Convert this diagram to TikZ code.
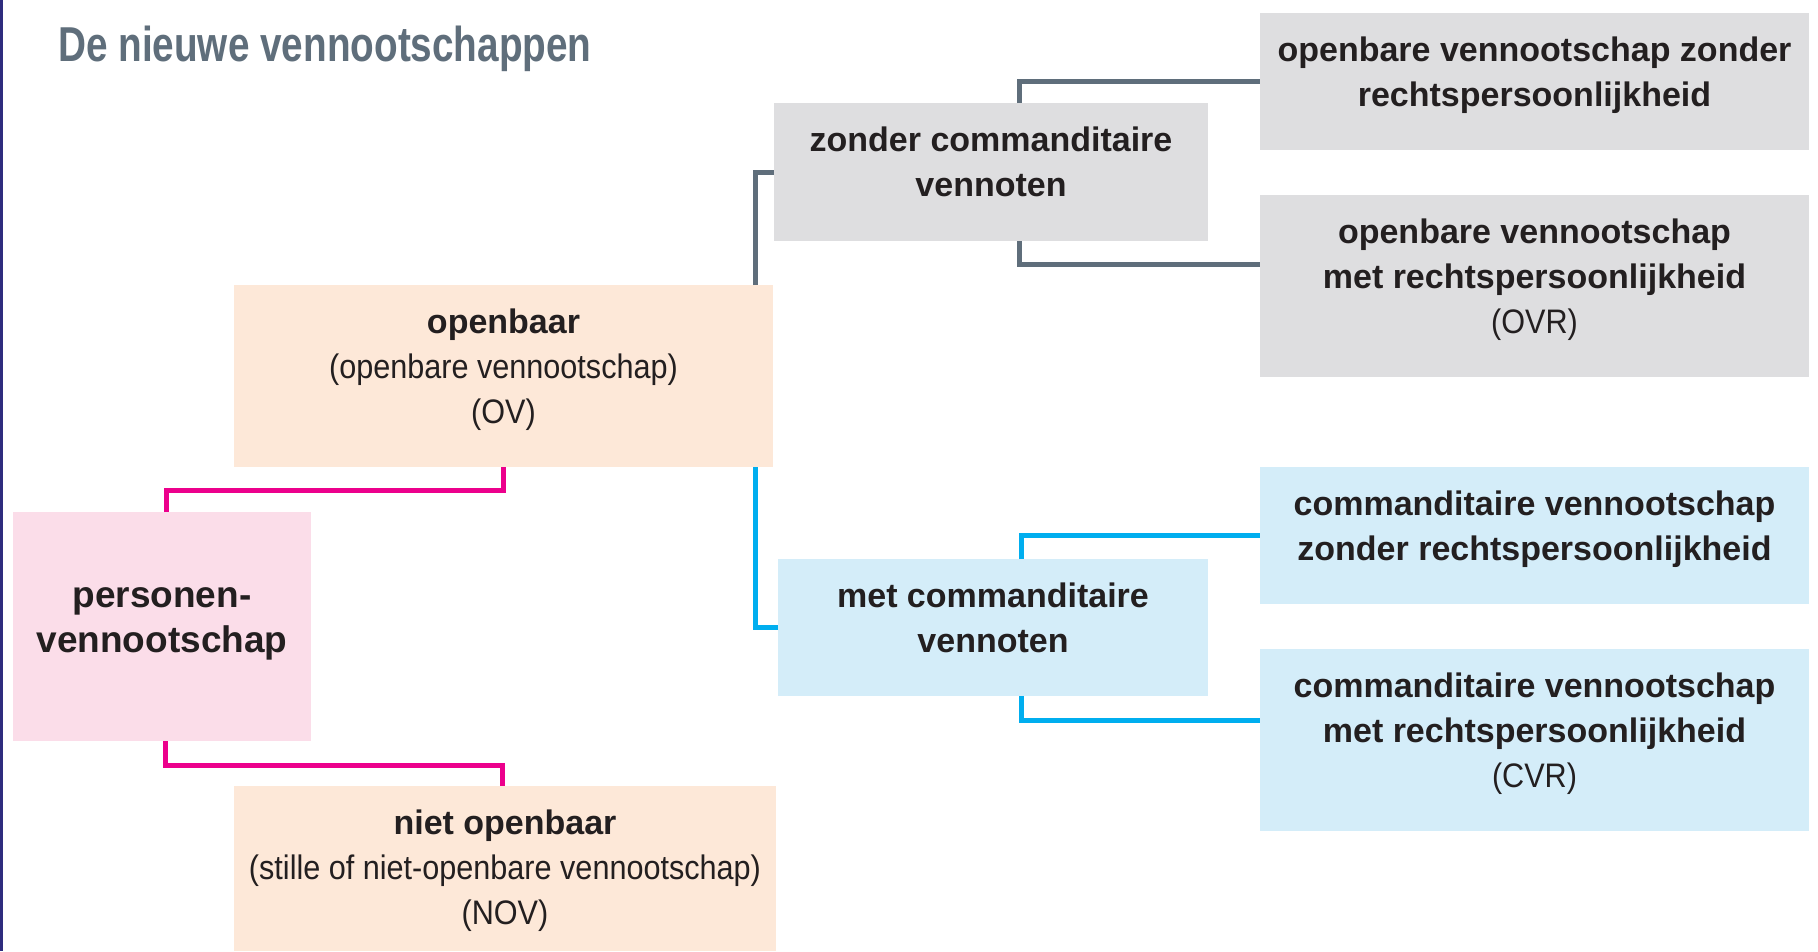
\documentclass[tikz,border=0pt]{standalone}
\usepackage{fontspec}
\setmainfont{Liberation Sans}
\newfontfamily\cond[FakeStretch=0.9]{Liberation Sans}
\newfontfamily\titlefont[FakeStretch=0.79]{Liberation Sans Bold}
\usetikzlibrary{calc}
\definecolor{peach}{HTML}{FDE8D8}
\definecolor{rosebox}{HTML}{FBDDE9}
\definecolor{greybox}{HTML}{DEDEE0}
\definecolor{bluebox}{HTML}{D4EDF9}
\definecolor{pinkline}{HTML}{EC008C}
\definecolor{slate}{HTML}{5F6E7B}
\definecolor{skyline}{HTML}{00AEEF}
\definecolor{ink}{HTML}{231F20}
\definecolor{borderblue}{HTML}{2E2C7E}
\begin{document}
\begin{tikzpicture}[x=1pt,y=-1pt,
  box/.style={draw=none, inner sep=0pt, outer sep=0pt, anchor=north west},
  txt/.style={anchor=north, inner sep=0pt, align=center, text=ink,
              font=\fontsize{34}{45}\selectfont\bfseries},
  conn/.style={line width=5pt},
]
\useasboundingbox (0,0) rectangle (1818,951);
\fill[white] (0,0) rectangle (1818,951);
\fill[borderblue] (0,0) rectangle (2.5,951);

% title
\node[anchor=base west, inner sep=0pt, text=slate, font=\titlefont\fontsize{49}{55}\selectfont] (title) at (58,61) {De nieuwe vennootschappen};

% boxes
\node[box, fill=rosebox, minimum width=298pt, minimum height=229pt] (pers) at (13,512) {};
\node[box, fill=peach, minimum width=539pt, minimum height=182pt] (ob) at (234,285) {};
\node[box, fill=peach, minimum width=542pt, minimum height=165pt] (nov) at (234,786) {};
\node[box, fill=greybox, minimum width=434pt, minimum height=138pt] (zc) at (774,103) {};
\node[box, fill=bluebox, minimum width=430pt, minimum height=137pt] (mc) at (778,559) {};
\node[box, fill=greybox, minimum width=549pt, minimum height=137pt] (ovz) at (1260,13) {};
\node[box, fill=greybox, minimum width=549pt, minimum height=182pt] (ovr) at (1260,195) {};
\node[box, fill=bluebox, minimum width=549pt, minimum height=137pt] (cvz) at (1260,467) {};
\node[box, fill=bluebox, minimum width=549pt, minimum height=182pt] (cvr) at (1260,649) {};

% texts
\node[txt, font=\fontsize{37}{45}\selectfont\bfseries] (persT) at ([yshift=-65pt]pers.north) {\rule{0pt}{30pt}personen-\\vennootschap};
\node[txt] (obT) at ([yshift=-18pt]ob.north) {\rule{0pt}{30pt}openbaar\\{\mdseries\cond (openbare vennootschap)}\\{\mdseries\cond (OV)}};
\node[txt] (novT) at ([yshift=-18pt]nov.north) {\rule{0pt}{30pt}niet openbaar\\{\mdseries\cond (stille of niet-openbare vennootschap)}\\{\mdseries\cond (NOV)}};
\node[txt] (zcT) at ([yshift=-18pt]zc.north) {\rule{0pt}{30pt}zonder commanditaire\\vennoten};
\node[txt] (mcT) at ([yshift=-18pt]mc.north) {\rule{0pt}{30pt}met commanditaire\\vennoten};
\node[txt] (ovzT) at ([yshift=-18pt]ovz.north) {\rule{0pt}{30pt}openbare vennootschap zonder\\rechtspersoonlijkheid};
\node[txt] (ovrT) at ([yshift=-18pt]ovr.north) {\rule{0pt}{30pt}openbare vennootschap\\met rechtspersoonlijkheid\\{\mdseries\cond (OVR)}};
\node[txt] (cvzT) at ([yshift=-18pt]cvz.north) {\rule{0pt}{30pt}commanditaire vennootschap\\zonder rechtspersoonlijkheid};
\node[txt] (cvrT) at ([yshift=-18pt]cvr.north) {\rule{0pt}{30pt}commanditaire vennootschap\\met rechtspersoonlijkheid\\{\mdseries\cond (CVR)}};

% connectors
\coordinate (pkA) at (0,490);
\coordinate (pkB) at (0,765);
\coordinate (pkTop) at ($(pers.north)+(4,0)$);
\coordinate (pkBot) at ($(pers.south)+(3,0)$);
\coordinate (novIn) at ($(nov.north)+(-3,0)$);
\draw[conn, pinkline] (pkTop) -- (pkTop |- pkA) -- (ob.south |- pkA) -- (ob.south);
\draw[conn, pinkline] (pkBot) -- (pkBot |- pkB) -- (novIn |- pkB) -- (novIn);

\coordinate (gA) at ($(ob.north east)+(-18,0)$);
\coordinate (bA) at ($(ob.south east)+(-18,0)$);
\draw[conn, slate] (gA) |- (zc.west);
\draw[conn, slate] ([xshift=28pt]zc.north) |- (ovz.west);
\draw[conn, slate] ([xshift=28pt]zc.south) |- ([yshift=-69pt]ovr.north west);

\draw[conn, skyline] (bA) |- (mc.west);
\draw[conn, skyline] ([xshift=28pt]mc.north) |- (cvz.west);
\draw[conn, skyline] ([xshift=28pt]mc.south) |- ([yshift=-71pt]cvr.north west);
\end{tikzpicture}
\end{document}
